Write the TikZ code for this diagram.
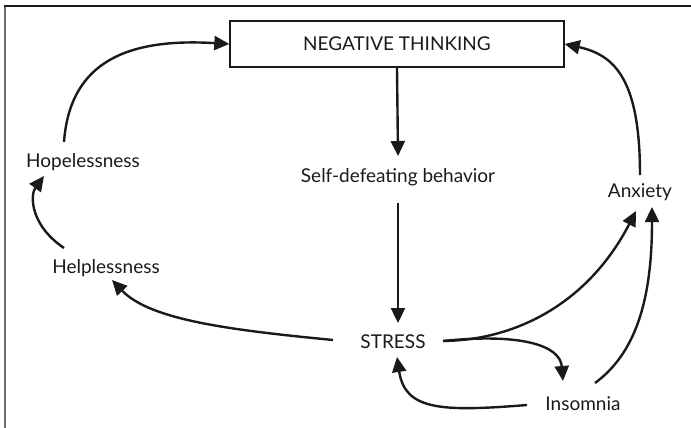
\documentclass[tikz,border=0pt]{standalone}
\usepackage{fontspec}
\setmainfont{Lato}
\usetikzlibrary{arrows.meta}
\definecolor{framegray}{HTML}{6E6E6E}
\definecolor{inkgray}{HTML}{1A1A1A}

\begin{document}
\begin{tikzpicture}[x=1pt,y=-1pt,
  lbl/.style={text=inkgray,font=\fontsize{19}{21}\selectfont,inner sep=0pt},
  arr/.style={line width=2.4pt,-{Triangle[length=15pt,width=14pt]},inkgray}]
\useasboundingbox (0,0) rectangle (691,428);
\draw[framegray,line width=2pt] (5,428) -- (5,6);
\draw[inkgray,line width=1.6pt] (4,6) -- (691,6);

\node[lbl,draw=inkgray,line width=1.4pt,minimum width=334pt,minimum height=46pt] (neg) at (397,44) {NEGATIVE THINKING};
\node[lbl] (self)  at (398,177)  {Self-defeating behavior};
\node[lbl] (stress) at (393,342) {STRESS};
\node[lbl] (hope)  at (83,162)   {Hopelessness};
\node[lbl] (help)  at (106,268)  {Helplessness};
\node[lbl] (anx)   at (640,192)  {Anxiety};
\node[lbl] (ins)   at (583,404)  {Insomnia};

\draw[arr] (neg.south) -- ([shift={(0,-21)}]self.center);
\draw[arr] ([shift={(0,26)}]self.center) -- ([shift={(5,-19)}]stress.center);
\draw[arr] ([shift={(-19,-20)}]hope.center) .. controls (70,60) and (130,38) .. (neg.west);
\draw[arr] ([shift={(-42,-20)}]help.center) .. controls (30,225) and (30,195) .. ([shift={(-39,14)}]hope.center);
\draw[arr] ([shift={(-60,-2)}]stress.center) .. controls (230,330) and (150,320) .. ([shift={(6,12)}]help.center);
\draw[arr] ([shift={(50,-1)}]stress.center) .. controls (520,340) and (590,300) .. ([shift={(-4,19)}]anx.center);
\draw[arr] ([shift={(50,-1)}]stress.center) .. controls (520,333) and (560,345) .. ([shift={(-20,-23)}]ins.center);
\draw[arr] ([shift={(-56,1)}]ins.center) .. controls (440,412) and (405,410) .. ([shift={(4,15)}]stress.center);
\draw[arr] ([shift={(12,-21)}]ins.center) .. controls (640,350) and (652,290) .. ([shift={(12,15)}]anx.center);
\draw[arr] ([shift={(0,-17)}]anx.center) .. controls (640,80) and (615,55) .. (neg.east);
\end{tikzpicture}
\end{document}
